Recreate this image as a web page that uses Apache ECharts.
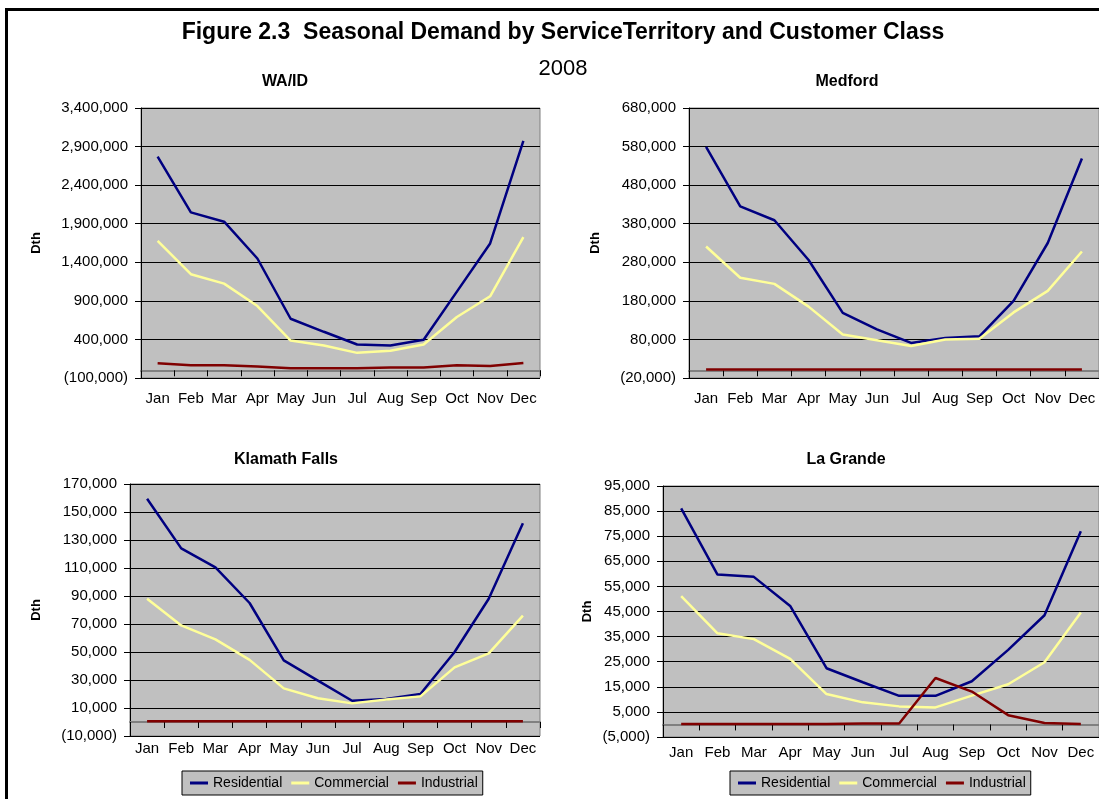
<!DOCTYPE html>
<html>
<head>
<meta charset="utf-8">
<title>Seasonal Demand by Service Territory</title>
<script src="https://cdn.jsdelivr.net/npm/echarts@6/dist/echarts.min.js"></script>
<style>
  html, body { margin: 0; padding: 0; background: #fff; }
  #chart { position: absolute; left: 0; top: 0; width: 1099px; height: 799px; }
  #frame { position: absolute; left: 5px; top: 8px; width: 1100px; height: 800px;
           border-top: 3px solid #000; border-left: 3px solid #000; pointer-events: none; }
</style>
</head>
<body>
<div id="chart"></div>
<div id="frame"></div>
<script>
// 月份
const months = ["Jan", "Feb", "Mar", "Apr", "May", "Jun", "Jul", "Aug", "Sep", "Oct", "Nov", "Dec"];
const seriesNames = ["Residential", "Commercial", "Industrial"];

// WA/ID (Dth)
const waResidential = [2771000, 2047000, 1926000, 1449000, 668000, 499000, 334000, 321000, 395000, 1020000, 1644000, 2975000];
const waCommercial = [1678000, 1245000, 1123000, 833000, 386000, 321000, 226000, 252000, 334000, 690000, 959000, 1726000];
const waIndustrial = [91000, 65000, 65000, 48000, 26000, 26000, 26000, 35000, 35000, 65000, 56000, 95000];

// Medford
const medResidential = [579000, 425000, 389000, 286000, 149000, 106000, 71000, 84000, 88000, 180000, 330000, 549000];
const medCommercial = [321000, 240000, 224000, 165000, 93000, 78000, 63000, 80000, 82000, 150000, 206000, 308000];
const medIndustrial = [2000, 2000, 2000, 2000, 2000, 2000, 2000, 2000, 2000, 2000, 2000, 2000];

// Klamath Falls
const klaResidential = [159500, 124000, 110400, 85000, 44000, 29600, 15200, 16400, 20000, 50000, 88000, 142000];
const klaCommercial = [88000, 69000, 59000, 44400, 24000, 17000, 13300, 16000, 18300, 39000, 49000, 76000];
const klaIndustrial = [500, 500, 500, 500, 500, 500, 500, 500, 500, 500, 500, 500];

// La Grande
const lgResidential = [86100, 59700, 58800, 47200, 22400, 16800, 11400, 11400, 17200, 29700, 43500, 77000];
const lgCommercial = [51100, 36300, 34000, 26100, 12100, 8800, 7200, 6800, 11500, 16000, 24800, 44600];
const lgIndustrial = [200, 200, 200, 200, 200, 400, 400, 18500, 13100, 3700, 600, 200];

// 纵轴刻度 [min, max, interval]
const waTicks = [-100000, 3400000, 500000];
const medTicks = [-20000, 680000, 100000];
const klaTicks = [-10000, 170000, 20000];
const lgTicks = [-5000, 95000, 10000];

const colors = ["#000080", "#FFFF99", "#800000"];
const FONT = "'Liberation Sans', Arial, sans-serif";

function fmt(v) {
  const s = Math.abs(v).toLocaleString("en-US");
  return v < 0 ? "(" + s + ")" : s;
}

const panels = [
  { title: "WA/ID", data: [waResidential, waCommercial, waIndustrial], ticks: waTicks,
    grid: { left: 141, top: 108, width: 399, height: 270 }, tx: 280, ty: 69, nameGap: 98, labelGap: 13 },
  { title: "Medford", data: [medResidential, medCommercial, medIndustrial], ticks: medTicks,
    grid: { left: 689, top: 108, width: 412, height: 270 }, tx: 842, ty: 69, nameGap: 87, labelGap: 13 },
  { title: "Klamath Falls", data: [klaResidential, klaCommercial, klaIndustrial], ticks: klaTicks,
    grid: { left: 130, top: 484, width: 410, height: 252 }, tx: 281, ty: 447, nameGap: 87, labelGap: 5 },
  { title: "La Grande", data: [lgResidential, lgCommercial, lgIndustrial], ticks: lgTicks,
    grid: { left: 663, top: 486, width: 437, height: 251 }, tx: 841, ty: 447, nameGap: 69, labelGap: 8 },
];

const option = {
  backgroundColor: "#fff",
  animation: false,
  title: [
    { text: "Figure 2.3  Seasonal Demand by ServiceTerritory and Customer Class",
      left: 558, top: 16, textAlign: "center",
      textStyle: { fontFamily: FONT, fontSize: 23, fontWeight: "bold", color: "#000" } },
    { text: "2008", left: 558, top: 53, textAlign: "center",
      textStyle: { fontFamily: FONT, fontSize: 22, fontWeight: "normal", color: "#000" } },
  ].concat(panels.map((p) => ({
    text: p.title, left: p.tx, top: p.ty, textAlign: "center",
    textStyle: { fontFamily: FONT, fontSize: 16, fontWeight: "bold", color: "#000" },
  }))),
  legend: [
    { left: 182, top: 771 },
    { left: 730, top: 771 },
  ].map((pos) => ({
    left: pos.left, top: pos.top, data: seriesNames,
    icon: "rect", itemWidth: 18, itemHeight: 3, itemGap: 9,
    backgroundColor: "#C0C0C0", borderColor: "#000", borderWidth: 1,
    padding: [5, 5, 5, 8], selectedMode: false,
    textStyle: { fontFamily: FONT, fontSize: 14, color: "#000" },
  })),
  grid: panels.map((p) => Object.assign({
    show: true, backgroundColor: "#C0C0C0", borderColor: "#808080", borderWidth: 1,
  }, p.grid)),
  xAxis: panels.map((p, i) => ({
    type: "category", gridIndex: i, data: months, boundaryGap: true,
    axisLine: { onZero: true, lineStyle: { color: "#808080", width: 2 } },
    axisTick: { show: true, length: 6, lineStyle: { color: "#000", width: 1 } },
    axisLabel: { margin: p.labelGap, color: "#000", fontFamily: FONT, fontSize: 15, interval: 0 },
    splitLine: { show: false },
  })),
  yAxis: panels.map((p, i) => ({
    type: "value", gridIndex: i,
    min: p.ticks[0], max: p.ticks[1], interval: p.ticks[2],
    name: "Dth", nameLocation: "middle", nameRotate: 90, nameGap: p.nameGap,
    nameTextStyle: { fontFamily: FONT, fontSize: 13, fontWeight: "bold", color: "#000" },
    axisLine: { show: true, lineStyle: { color: "#000", width: 1 } },
    axisTick: { show: true, length: 6, lineStyle: { color: "#000" } },
    axisLabel: { margin: 13, color: "#000", fontFamily: FONT, fontSize: 15, formatter: fmt },
    splitLine: { show: true, lineStyle: { color: "#000", width: 1 } },
  })),
  series: [],
};

panels.forEach((p, i) => {
  p.data.forEach((values, k) => {
    option.series.push({
      type: "line", name: seriesNames[k], xAxisIndex: i, yAxisIndex: i,
      data: values, symbol: "none", smooth: false,
      lineStyle: { color: colors[k], width: 2.5 }, itemStyle: { color: colors[k] },
    });
  });
});

const myChart = echarts.init(document.getElementById("chart"), null, { renderer: "canvas" });
myChart.setOption(option);
</script>
</body>
</html>
